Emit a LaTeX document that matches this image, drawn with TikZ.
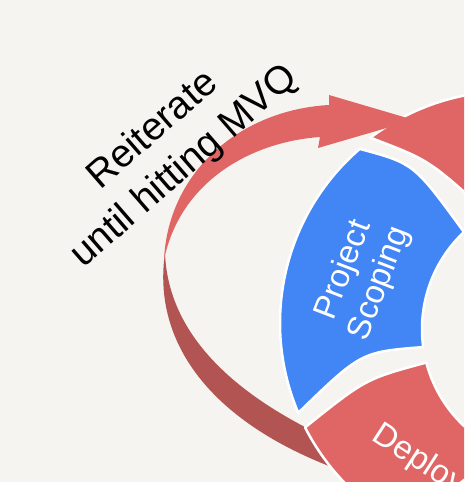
\documentclass[tikz,border=0pt]{standalone}
\usepackage{fontspec}
\setmainfont{Liberation Sans}
\usetikzlibrary{positioning}
\definecolor{paper}{HTML}{F5F4F1}
\definecolor{phasered}{HTML}{E06666}
\definecolor{phaseblue}{HTML}{4285F4}
\definecolor{loopshade}{HTML}{B25452}

\begin{document}
\begin{tikzpicture}[x=1pt, y=1pt]
    \tikzstyle{phase} = [draw=white, line width=2.5pt, line join=round]
    \tikzstyle{phasetext} = [text=white, font=\fontsize{33}{38}\selectfont, align=center]
    \tikzstyle{loopnote} = [text=black, font=\fontsize{39}{48}\selectfont, align=center]

    \fill[paper] (0,0) rectangle (464,482);
    \useasboundingbox (0,0) rectangle (464,482);
    \clip (0,0) rectangle (464,482);

    \coordinate (rim) at (510,159);
    \coordinate (hub) at (555,153);
    \coordinate (looptop) at (164,222);
    \coordinate (loopend) at (345,10);
    \coordinate (loopback) at (325,45);

    % Loop arrow, shaded side
    \fill[loopshade] (165,229) .. controls (152,140) and (210,58) .. (loopend)
        -- (loopback) .. controls (230,90) and (168,150) .. (165,229) -- cycle;

    % Phases
    \path[phase, fill=phaseblue] ([shift={(133.2:133)}]hub) .. controls (414,318.5) .. ([shift={(130.8:230)}]rim)
        arc[start angle=130.8, end angle=203, radius=230]
        .. controls (361,130) .. ([shift={(187.8:133)}]hub)
        arc[start angle=187.8, end angle=133.2, radius=133] -- cycle;
    \path[phase, fill=phasered] ([shift={(207:230)}]rim) arc[start angle=207, end angle=262, radius=230]
        -- ([shift={(262:133)}]hub) arc[start angle=262, end angle=194.6, radius=133]
        .. controls (365.5,103) .. ([shift={(207:230)}]rim) -- cycle;
    \path[phase, fill=phasered] ([shift={(120:133)}]hub) .. controls (429,322) .. ([shift={(127:232)}]rim)
        arc[start angle=127, end angle=45, radius=232]
        -- ([shift={(60:133)}]hub) arc[start angle=60, end angle=120, radius=133] -- cycle;

    % Loop arrow, top side and head
    \fill[phasered] (looptop) .. controls (168,310) and (240,372) .. (329,377)
        -- (329,387) -- (414,362) -- (318,334) -- (320,345)
        .. controls (250,340) and (180,300) .. (looptop) -- cycle;

    % Labels
    \node[phasetext, rotate=69] (scoping) at (362,205) {Project\\Scoping};
    \node[phasetext, rotate=-33, anchor=base west] (deploy) at (368,44) {Deployment};
    \node[loopnote, rotate=41] (reiterate) at (169,333) {Reiterate\\until hitting MVQ};
\end{tikzpicture}
\end{document}
